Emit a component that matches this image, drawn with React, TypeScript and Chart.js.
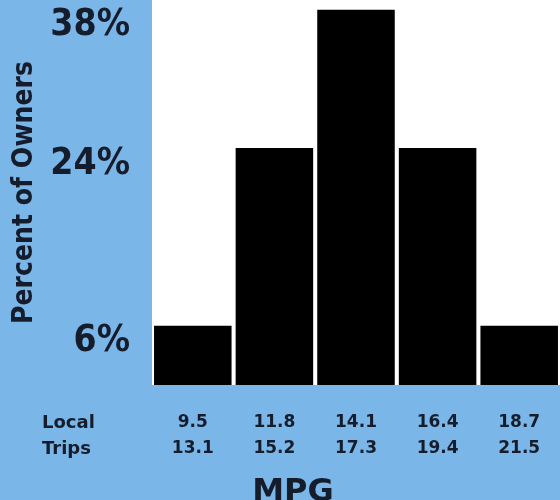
import React, { useEffect, useRef } from "react";
import { Chart, registerables } from "chart.js";

Chart.register(...registerables);

const mpgLabels: string[][] = [
  ["9.5", "13.1"],
  ["11.8", "15.2"],
  ["14.1", "17.3"],
  ["16.4", "19.4"],
  ["18.7", "21.5"],
];
const ownerPercents: number[] = [6, 24, 38, 24, 6];
const yTickValues: number[] = [6, 24, 38];
const rowLabels: string[] = ["Local", "Trips"];
const xTitle = "MPG";
const yTitle = "Percent of Owners";

const BLUE = "rgb(122,182,232)";
const INK = "#151d2c";
const NARROW = '"DejaVu Sans Condensed", "Roboto", sans-serif';
const ROUND = '"DejaVu Sans", "Verdana", sans-serif';

const decor = {
  id: "decor",
  beforeDraw(chart: any) {
    const { ctx, chartArea } = chart;
    ctx.save();
    ctx.fillStyle = BLUE;
    ctx.fillRect(0, 0, chart.width, chart.height);
    ctx.fillStyle = "#ffffff";
    ctx.fillRect(chartArea.left, 0, chartArea.right - chartArea.left, chartArea.bottom);
    ctx.restore();
  },
  afterDraw(chart: any) {
    const { ctx, chartArea } = chart;
    ctx.save();
    ctx.fillStyle = INK;
    ctx.textAlign = "left";
    ctx.textBaseline = "alphabetic";
    ctx.font = `bold 18px ${ROUND}`;
    ctx.fillText(rowLabels[0], 42, chartArea.bottom + 43);
    ctx.fillText(rowLabels[1], 42, chartArea.bottom + 69);
    ctx.font = `bold 32px ${ROUND}`;
    ctx.textAlign = "center";
    ctx.fillText(xTitle, 293, chartArea.bottom + 116);
    ctx.restore();
  },
};

export default function App() {
  const ref = useRef<HTMLCanvasElement>(null);
  useEffect(() => {
    document.body.style.margin = "0";
    document.body.style.background = BLUE;
    const chart = new Chart(ref.current as HTMLCanvasElement, {
      type: "bar",
      data: {
        labels: mpgLabels,
        datasets: [
          {
            data: ownerPercents,
            backgroundColor: "#000000",
            borderWidth: 0,
            barPercentage: 1,
            categoryPercentage: 0.95,
          },
        ],
      },
      options: {
        animation: false,
        responsive: false,
        layout: { padding: 0 },
        plugins: { legend: { display: false }, tooltip: { enabled: false } },
        scales: {
          x: {
            grid: { display: false, drawTicks: false },
            border: { display: false },
            ticks: {
              color: INK,
              font: { family: ROUND, weight: "bold", size: 17, lineHeight: 1.5 },
              padding: 25,
              maxRotation: 0,
              autoSkip: false,
            },
            afterFit(s: any) {
              s.height = 115;
              s.paddingLeft = 0;
              s.paddingRight = 0;
            },
          },
          y: {
            min: 0,
            max: 39,
            grid: { display: false, drawTicks: false },
            border: { display: false },
            afterBuildTicks(axis: any) {
              axis.ticks = yTickValues.map((v) => ({ value: v }));
            },
            ticks: {
              color: INK,
              font: { family: NARROW, weight: "bold", size: 37, lineHeight: 1 },
              padding: 22,
              labelOffset: 16,
              callback: (v: any) => `${v}%`,
            },
            title: {
              display: true,
              text: yTitle,
              color: INK,
              font: { family: NARROW, weight: "bold", size: 28, lineHeight: 1 },
              padding: { top: 11, bottom: 0 },
            },
            afterFit(s: any) {
              s.width = 152;
              s.paddingTop = 0;
              s.paddingBottom = 0;
            },
          },
        },
      },
      plugins: [decor],
    } as any);
    return () => chart.destroy();
  }, []);
  return (
    <div style={{ position: "absolute", left: 0, top: 0, width: 560, height: 500 }}>
      <canvas ref={ref} width={560} height={500} style={{ display: "block" }} />
    </div>
  );
}
